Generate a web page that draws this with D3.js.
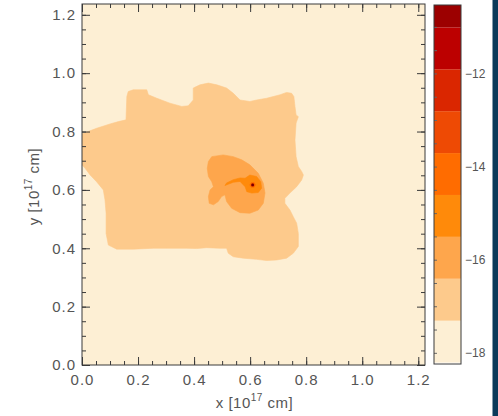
<!DOCTYPE html>
<html>
<head>
<meta charset="utf-8">
<script src="https://cdn.jsdelivr.net/npm/d3@7"></script>
<style>
  body { margin: 0; background: #fff; }
  svg { display: block; }
  text { font-family: "Liberation Sans", Arial, sans-serif; }
</style>
</head>
<body>
<svg id="chart" width="498" height="416"></svg>
<script>
// log density thresholds (lower bound of each filled band)
const levels = [-18.21, -17.31, -16.41, -15.51, -14.61, -13.71, -12.81, -11.91, -11.01];
const bandColors = ["#fdefd4", "#fdca8c", "#fea64c", "#ff8a0a", "#ff6c00", "#ee4a04", "#da2600", "#bc0000", "#9c0000"];
const colorbarRange = [-18.24, -10.53];
const colorbarTicks = [-18, -16, -14, -12];

// axis ticks, units of 10^17 cm
const axisTicks = [0.0, 0.2, 0.4, 0.6, 0.8, 1.0, 1.2];
const axisExtent = { x: 1.224, y: 1.237 };

// outer envelope, log rho >= -17.31
const contourOuter = [
  [-0.01, 0.792], [0.000, 0.792], [0.052, 0.811], [0.100, 0.826], [0.130, 0.834], [0.157, 0.840],
  [0.160, 0.920], [0.165, 0.937], [0.183, 0.943], [0.231, 0.943], [0.237, 0.926], [0.267, 0.914],
  [0.314, 0.897], [0.356, 0.886], [0.379, 0.888], [0.397, 0.908], [0.397, 0.949], [0.421, 0.960],
  [0.451, 0.966], [0.481, 0.960], [0.516, 0.949], [0.540, 0.931], [0.564, 0.908], [0.599, 0.903],
  [0.623, 0.908], [0.659, 0.914], [0.707, 0.926], [0.730, 0.934], [0.748, 0.931], [0.756, 0.920],
  [0.760, 0.886], [0.764, 0.857], [0.772, 0.851], [0.764, 0.829], [0.760, 0.771], [0.764, 0.714],
  [0.772, 0.680], [0.784, 0.663], [0.790, 0.651], [0.784, 0.634], [0.766, 0.611], [0.742, 0.589],
  [0.724, 0.571], [0.724, 0.554], [0.742, 0.531], [0.754, 0.508], [0.766, 0.486], [0.772, 0.451],
  [0.772, 0.406], [0.754, 0.383], [0.730, 0.366], [0.695, 0.360], [0.659, 0.358], [0.623, 0.362],
  [0.576, 0.366], [0.540, 0.371], [0.522, 0.383], [0.516, 0.400], [0.492, 0.400], [0.445, 0.402],
  [0.409, 0.399], [0.374, 0.400], [0.302, 0.400], [0.254, 0.400], [0.183, 0.397], [0.124, 0.397],
  [0.094, 0.411], [0.086, 0.451], [0.086, 0.520], [0.082, 0.566], [0.076, 0.600], [0.052, 0.628],
  [0.029, 0.651], [0.011, 0.674], [0.000, 0.686], [-0.01, 0.686]
];

// envelope around the core, log rho >= -16.41
const contourInner = [
  [0.451, 0.697], [0.463, 0.714], [0.504, 0.720], [0.540, 0.714], [0.570, 0.703], [0.599, 0.686],
  [0.629, 0.657], [0.647, 0.623], [0.653, 0.589], [0.647, 0.554], [0.629, 0.531], [0.599, 0.520],
  [0.564, 0.522], [0.534, 0.537], [0.516, 0.560], [0.510, 0.583], [0.498, 0.577], [0.486, 0.560],
  [0.469, 0.549], [0.454, 0.554], [0.451, 0.577], [0.457, 0.600], [0.469, 0.611], [0.463, 0.628],
  [0.451, 0.646], [0.447, 0.674]
];

// core with its trailing arm, log rho >= -15.51
const contourCore = [
  [0.582, 0.640], [0.599, 0.651], [0.623, 0.646], [0.638, 0.628], [0.641, 0.606], [0.629, 0.591],
  [0.606, 0.589], [0.588, 0.594], [0.582, 0.611], [0.564, 0.629], [0.540, 0.626], [0.521, 0.619],
  [0.510, 0.615], [0.516, 0.624], [0.540, 0.635], [0.564, 0.641]
];

// central peak, log rho >= -14.61
const contourPeak = [
  [0.619, 0.617], [0.614, 0.625], [0.604, 0.625], [0.599, 0.617], [0.604, 0.609], [0.614, 0.609]
];

// sink position and its peak density
const sink = { x: 0.609, y: 0.617, value: -11.0 };

const contours = [
  { level: levels[1], points: contourOuter },
  { level: levels[2], points: contourInner },
  { level: levels[3], points: contourCore },
  { level: levels[4], points: contourPeak }
];

const svg = d3.select("#chart");
const W = 498, H = 416;
const plot = { left: 82, right: 425, top: 4, bottom: 365 };
const bar = { left: 434, right: 461, top: 5, bottom: 364 };

svg.append("rect").attr("width", W).attr("height", H).attr("fill", "#fff");
// dark edge strip along the right side
svg.append("rect").attr("x", 492.5).attr("y", 0).attr("width", W - 492.5).attr("height", H).attr("fill", "#0a3a5a");

const x = d3.scaleLinear().domain([0, axisExtent.x]).range([plot.left, plot.right]);
const y = d3.scaleLinear().domain([0, axisExtent.y]).range([plot.bottom, plot.top]);
const color = d3.scaleThreshold().domain(levels.slice(1)).range(bandColors);

svg.append("clipPath").attr("id", "plotClip")
  .append("rect").attr("x", plot.left).attr("y", plot.top)
  .attr("width", plot.right - plot.left).attr("height", plot.bottom - plot.top);

const field = svg.append("g").attr("clip-path", "url(#plotClip)");
field.append("rect")
  .attr("x", plot.left).attr("y", plot.top)
  .attr("width", plot.right - plot.left).attr("height", plot.bottom - plot.top)
  .attr("fill", color(levels[0]));

const line = d3.line().x(d => x(d[0])).y(d => y(d[1])).curve(d3.curveLinearClosed);
field.selectAll("path.band").data(contours).join("path")
  .attr("class", "band")
  .attr("d", d => line(d.points))
  .attr("fill", d => color(d.level))
  .attr("stroke", d => color(d.level))
  .attr("stroke-width", 0.6);

field.append("circle")
  .attr("cx", x(sink.x)).attr("cy", y(sink.y)).attr("r", 1.6)
  .attr("fill", color(sink.value));
field.append("circle")
  .attr("cx", x(sink.x)).attr("cy", y(sink.y)).attr("r", 0.9)
  .attr("fill", "#6a0000");

// axes: ticks point inward on all four sides
const minorTicks = d3.range(0, 1.2001, 0.05);
const axisColor = "#3a3a3a";
const labelColor = "#555";

function styleAxis(g) {
  g.select(".domain").remove();
  g.selectAll("line").attr("stroke", axisColor).attr("stroke-width", 1);
  g.selectAll("text").attr("fill", labelColor).style("font-size", "15px").style("letter-spacing", "1px");
}

svg.append("g").attr("transform", `translate(0,${plot.bottom})`)
  .call(d3.axisBottom(x).tickValues(minorTicks).tickSize(-4).tickFormat(""))
  .call(styleAxis);
svg.append("g").attr("transform", `translate(0,${plot.bottom})`)
  .call(d3.axisBottom(x).tickValues(axisTicks).tickSizeInner(-8).tickSizeOuter(0).tickPadding(9).tickFormat(d3.format(".1f")))
  .call(styleAxis);
svg.append("g").attr("transform", `translate(0,${plot.top})`)
  .call(d3.axisTop(x).tickValues(minorTicks).tickSize(-4).tickFormat(""))
  .call(styleAxis);
svg.append("g").attr("transform", `translate(0,${plot.top})`)
  .call(d3.axisTop(x).tickValues(axisTicks).tickSize(-8).tickFormat(""))
  .call(styleAxis);

svg.append("g").attr("transform", `translate(${plot.left},0)`)
  .call(d3.axisLeft(y).tickValues(minorTicks).tickSize(-4).tickFormat(""))
  .call(styleAxis);
svg.append("g").attr("transform", `translate(${plot.left},0)`)
  .call(d3.axisLeft(y).tickValues(axisTicks).tickSizeInner(-8).tickSizeOuter(0).tickPadding(6).tickFormat(d3.format(".1f")))
  .call(styleAxis);
svg.append("g").attr("transform", `translate(${plot.right},0)`)
  .call(d3.axisRight(y).tickValues(minorTicks).tickSize(-4).tickFormat(""))
  .call(styleAxis);
svg.append("g").attr("transform", `translate(${plot.right},0)`)
  .call(d3.axisRight(y).tickValues(axisTicks).tickSize(-8).tickFormat(""))
  .call(styleAxis);

svg.append("rect")
  .attr("x", plot.left).attr("y", plot.top)
  .attr("width", plot.right - plot.left).attr("height", plot.bottom - plot.top)
  .attr("fill", "none").attr("stroke", axisColor).attr("stroke-width", 1);

// axis titles
const xTitle = svg.append("text")
  .attr("x", (plot.left + plot.right) / 2 + 1).attr("y", 408)
  .attr("text-anchor", "middle").attr("fill", labelColor)
  .style("font-size", "15px").style("letter-spacing", "0.5px");
xTitle.append("tspan").text("x [10");
xTitle.append("tspan").attr("dy", -7).style("font-size", "10px").text("17");
xTitle.append("tspan").attr("dy", 7).text(" cm]");

const yTitle = svg.append("text")
  .attr("transform", `translate(39,${(plot.top + plot.bottom) / 2 + 2}) rotate(-90)`)
  .attr("text-anchor", "middle").attr("fill", labelColor)
  .style("font-size", "15px").style("letter-spacing", "0.5px");
yTitle.append("tspan").text("y [10");
yTitle.append("tspan").attr("dy", -7).style("font-size", "10px").text("17");
yTitle.append("tspan").attr("dy", 7).text(" cm]");

// colour bar
const cb = d3.scaleLinear().domain(colorbarRange).range([bar.bottom, bar.top]);
const bands = levels.map((lo, i) => ({
  lo: Math.max(lo, colorbarRange[0]),
  hi: Math.min(i + 1 < levels.length ? levels[i + 1] : colorbarRange[1], colorbarRange[1]),
  color: bandColors[i]
})).filter(b => b.hi > b.lo);

svg.append("g").selectAll("rect").data(bands).join("rect")
  .attr("x", bar.left).attr("width", bar.right - bar.left)
  .attr("y", d => cb(d.hi)).attr("height", d => cb(d.lo) - cb(d.hi))
  .attr("fill", d => d.color);

svg.append("g").attr("transform", `translate(${bar.left},0)`)
  .call(d3.axisLeft(cb).tickValues(d3.range(-18, -10.5, 0.5)).tickSize(-3).tickFormat(""))
  .call(g => { g.select(".domain").remove(); g.selectAll("line").attr("stroke", "#666"); });

svg.append("rect")
  .attr("x", bar.left).attr("y", bar.top)
  .attr("width", bar.right - bar.left).attr("height", bar.bottom - bar.top)
  .attr("fill", "none").attr("stroke", axisColor).attr("stroke-width", 1);

svg.append("g").attr("transform", `translate(${bar.right},0)`)
  .call(d3.axisRight(cb).tickValues(colorbarTicks).tickSize(0).tickPadding(4).tickFormat(d => "\u2212" + Math.abs(d)))
  .call(g => {
    g.select(".domain").remove();
    g.selectAll("text").attr("fill", labelColor).style("font-size", "12px");
  });
</script>
</body>
</html>
